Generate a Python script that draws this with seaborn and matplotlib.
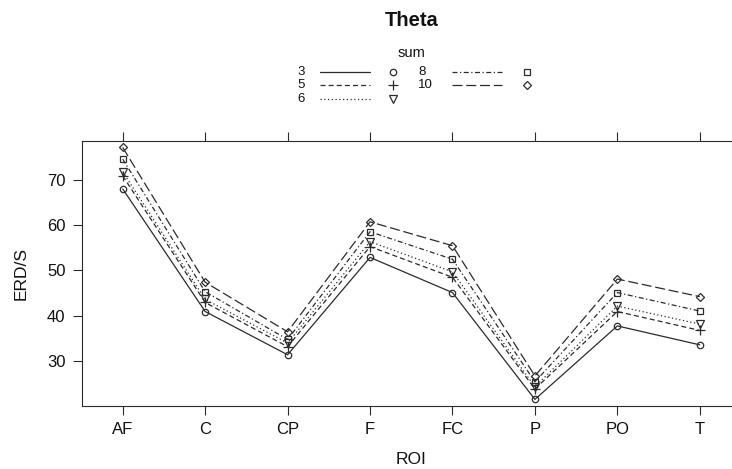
import pandas as pd
import seaborn as sns
import matplotlib.pyplot as plt
from matplotlib.lines import Line2D

rois = ['AF', 'C', 'CP', 'F', 'FC', 'P', 'PO', 'T']
sums = ['3', '5', '6', '8', '10']
sum3 = [68.1, 40.9, 31.3, 52.9, 45.1, 21.4, 37.7, 33.5]
sum5 = [71.0, 42.9, 33.1, 55.3, 48.5, 23.7, 40.9, 36.7]
sum6 = [71.9, 43.6, 33.9, 56.4, 49.7, 24.2, 42.1, 38.1]
sum8 = [74.7, 45.3, 34.7, 58.6, 52.5, 25.3, 45.1, 41.0]
sum10 = [77.3, 47.4, 36.4, 60.8, 55.5, 26.6, 48.1, 44.2]

wide = pd.DataFrame({'ROI': rois, '3': sum3, '5': sum5, '6': sum6,
                     '8': sum8, '10': sum10})
df = wide.melt(id_vars=['ROI'], value_vars=sums, var_name='sum',
               value_name='ERD/S')

sns.set_theme(style='white')
plt.rcParams['font.family'] = ['Liberation Sans', 'DejaVu Sans']

ink = '#2b2b2b'
markers = {'3': 'o', '5': '+', '6': 'v', '8': 's', '10': 'D'}
dashes = {'3': '', '5': (4, 2.5), '6': (1, 2), '8': (4, 2, 1, 2), '10': (8, 3)}
msize = {'3': 4.6, '5': 7, '6': 5.5, '8': 4.5, '10': 4.5}

fig = plt.figure(figsize=(7.32, 4.69), dpi=100)
ax = fig.add_axes([81.5 / 732, 1 - 405.7 / 469, 659.5 / 732, 265 / 469])

sns.lineplot(data=df, x='ROI', y='ERD/S', hue='sum', style='sum',
             hue_order=sums, style_order=sums,
             palette=[ink] * 5, markers=False, dashes=dashes,
             linewidth=0.9, legend=False, ax=ax)
# lattice style open symbols, set per line after drawing
for line, s in zip(ax.lines, sums):
    line.set_marker(markers[s])
    line.set_markerfacecolor('none')
    line.set_markeredgecolor(ink)
    line.set_markeredgewidth(0.9)
    line.set_markersize(msize[s])

ax.set_xlim(-0.5, 7.5)
ax.set_ylim(20.0, 78.8)
ax.set_yticks([30, 40, 50, 60, 70])
for sp in ax.spines.values():
    sp.set_color(ink)
    sp.set_linewidth(0.8)
ax.tick_params(axis='both', which='both', direction='out', length=6.5,
               width=0.8, color=ink, labelsize=12, pad=5,
               bottom=True, left=True, top=True, right=True,
               labelcolor='#111111')
ax.set_xlabel('ROI', fontsize=12.5, color='#111111')
ax.set_ylabel('ERD/S', fontsize=12.5, color='#111111')
ax.xaxis.set_label_coords(0.5, -0.176)
ax.yaxis.set_label_coords(-0.080, 0.5)

fig.text(411.7 / 732, 1 - 20.7 / 469, 'Theta', ha='center', va='center',
         fontsize=14.5, fontweight='bold', color='#111111')
fig.text(411.7 / 732, 1 - 52.7 / 469, 'sum', ha='center', va='center',
         fontsize=10.5, color='#111111')

# key, laid out in two columns like the lattice one
rows = [72.3, 85.5, 99.0]
cols = [(297.3, 320, 370, 393.3), (418.3, 451.7, 501.7, 526.7)]
for i, s in enumerate(sums):
    tx, x0, x1, mx = cols[i // 3]
    y = 1 - rows[i % 3] / 469
    fig.text(tx / 732, y, s, ha='left', va='center', fontsize=9.5,
             color='#111111')
    d = dashes[s]
    key_line = Line2D([x0 / 732, x1 / 732], [y, y], color=ink, linewidth=0.9)
    if d:
        key_line.set_dashes(d)
    fig.add_artist(key_line)
    fig.add_artist(Line2D([mx / 732], [y], marker=markers[s], color=ink,
                          markerfacecolor='none', markeredgewidth=0.9,
                          markersize=msize[s], linestyle='none'))

fig.savefig('out.png', dpi=100)
